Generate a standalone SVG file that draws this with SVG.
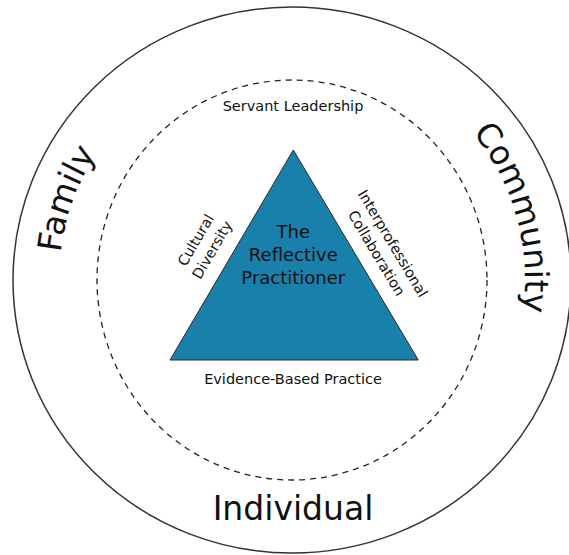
<svg xmlns="http://www.w3.org/2000/svg" width="569" height="555" viewBox="0 0 569 555">
<style>
  .lbl { font-family: "DejaVu Sans", "Liberation Sans", sans-serif; fill: #111; }
  .big { font-size: 33px; }
  .mid { font-size: 14.5px; }
  .tri { font-size: 18px; }
</style>
<defs>
  <path id="arcFamily" d="M74.5,363.5 A233,233 0 0,1 172,80.3"/>
  <path id="arcCommunity" d="M420.6,85.7 A233,233 0 0,1 505.7,372.9"/>
</defs>
<rect width="569" height="555" fill="#fff"/>
<g id="outer-ring">
  <ellipse cx="292" cy="280" rx="279" ry="273" fill="none" stroke="#333" stroke-width="1.5"/>
</g>
<g id="inner-ring">
  <ellipse cx="292" cy="280" rx="195" ry="200" fill="none" stroke="#222" stroke-width="1.3" stroke-dasharray="6 5"/>
</g>
<g id="family">
  <text class="lbl big"><textPath href="#arcFamily" startOffset="51%" text-anchor="middle">Family</textPath></text>
</g>
<g id="community">
  <text class="lbl big"><textPath href="#arcCommunity" startOffset="51%" text-anchor="middle">Community</textPath></text>
</g>
<g id="individual">
  <text class="lbl big" x="293" y="520" text-anchor="middle">Individual</text>
</g>
<g id="servant-leadership">
  <text class="lbl mid" x="293" y="111" text-anchor="middle">Servant Leadership</text>
</g>
<g id="evidence-based-practice">
  <text class="lbl mid" x="293" y="384" text-anchor="middle">Evidence-Based Practice</text>
</g>
<g id="reflective-practitioner">
  <polygon points="293.3,150 418.3,360 170,360" fill="#1880aa" stroke="#2a2a2a" stroke-width="1"/>
  <text class="lbl tri" x="293.3" y="238" text-anchor="middle">The</text>
  <text class="lbl tri" x="293.3" y="261" text-anchor="middle">Reflective</text>
  <text class="lbl tri" x="293.3" y="283.5" text-anchor="middle">Practitioner</text>
</g>
<g id="cultural-diversity" transform="translate(204,245) rotate(-59.6)">
  <text class="lbl mid" x="0" y="-4.5" text-anchor="middle">Cultural</text>
  <text class="lbl mid" x="0" y="14.5" text-anchor="middle">Diversity</text>
</g>
<g id="interprofessional-collaboration" transform="translate(384.6,248.3) rotate(59.2)">
  <text class="lbl mid" x="0" y="-4.5" text-anchor="middle">Interprofessional</text>
  <text class="lbl mid" x="0" y="14.5" text-anchor="middle">Collaboration</text>
</g>
</svg>
